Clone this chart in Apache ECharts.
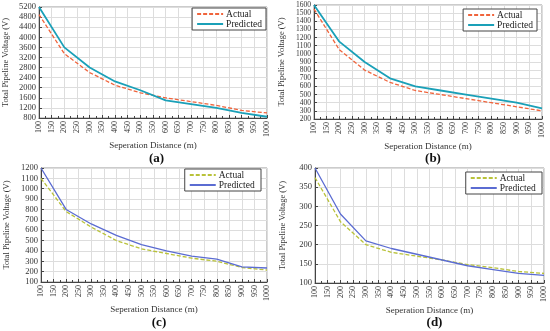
<!DOCTYPE html>
<html><head><meta charset="utf-8">
<script src="https://cdn.jsdelivr.net/npm/echarts@6/dist/echarts.min.js"></script>
<style>html,body{margin:0;padding:0;background:#fff}#c{width:550px;height:331px}</style>
</head><body><div id="c"></div>
<script>
var distances = [100,200,300,400,500,600,700,800,900,1000];
var aActual    = [4900,3350,2600,2100,1800,1600,1450,1300,1100,1000];
var aPredicted = [5200,3600,2800,2250,1900,1500,1350,1200,1000,850];
var bActual    = [1550,1050,800,650,550,500,450,400,350,300];
var bPredicted = [1600,1150,900,700,600,550,500,450,400,330];
var cActual    = [1100,780,630,500,420,375,330,300,240,215];
var cPredicted = [1200,800,660,550,460,400,350,320,245,235];
var dActual    = [375,260,200,180,170,160,148,140,130,125];
var dPredicted = [400,280,210,190,175,160,145,135,125,120];
var panelLabels = ['(a)','(b)','(c)','(d)'];
var yRanges = [[800,5200,400],[200,1600,100],[100,1200,100],[100,400,50]];

var F = '"Liberation Serif","DejaVu Serif",serif';
var grids = [
  {left:36, top:7, width:231, height:111},
  {left:314, top:5, width:228, height:114},
  {left:41, top:168, width:226, height:114},
  {left:315, top:168, width:229, height:115}
];
var legendPos = [
  {right:284, top:8}, {right:13, top:9}, {right:289, top:169}, {right:8, top:172}
];
var colorsA = ['#f0643c','#1aa0b8'];
var colorsC = ['#b9c23a','#5b6cd2'];
var allData = [[aActual,aPredicted],[bActual,bPredicted],[cActual,cPredicted],[dActual,dPredicted]];
function pairs(v){return distances.map(function(x,i){return [x,v[i]];});}

var option = {animation:false, grid:[], xAxis:[], yAxis:[], series:[], legend:[], title:[]};
for (var i=0;i<4;i++){
  var g = grids[i];
  option.grid.push({left:g.left, top:g.top, width:g.width, height:g.height, show:true, borderColor:'#999', borderWidth:1});
  option.xAxis.push({type:'value', gridIndex:i, min:100, max:1000, interval:50,
    name:'Seperation Distance (m)', nameLocation:'middle', nameGap:23,
    nameTextStyle:{fontFamily:F, fontSize:9, color:'#333'},
    axisLine:{lineStyle:{color:'#444'}}, axisTick:{inside:true, length:3, lineStyle:{color:'#444'}},
    minorTick:{show:true, splitNumber:2, length:2, lineStyle:{color:'#444'}},
    splitLine:{show:true, lineStyle:{color:'#ddd', width:1}},
    axisLabel:{rotate:90, fontFamily:F, fontSize:8, color:'#333', margin:3, formatter:function(v){return String(v);}}
  });
  var yr = yRanges[i];
  option.yAxis.push({type:'value', gridIndex:i, min:yr[0], max:yr[1], interval:yr[2],
    name:'Total Pipeline Voltage (V)', nameLocation:'middle', nameGap: (i==0?29:(i==1?28:(i==2?30:28))),
    nameTextStyle:{fontFamily:F, fontSize:8.5, color:'#333'},
    axisLine:{show:true, lineStyle:{color:'#444'}}, axisTick:{show:true, inside:true, length:3, lineStyle:{color:'#444'}},
    splitLine:{show:true, lineStyle:{color:'#ddd', width:1}},
    axisLabel:{fontFamily:F, fontSize:(i==1?7.5:8.5), color:'#333', margin:3, formatter:function(v){return String(v);}}
  });
  var cols = i<2 ? colorsA : colorsC;
  var nA = i<2 ? 'Actual' : 'Actual ';
  var nP = i<2 ? 'Predicted' : 'Predicted ';
  option.series.push({name:nA, type:'line', xAxisIndex:i, yAxisIndex:i, data:pairs(allData[i][0]),
    symbol:'none', lineStyle:{color:cols[0], width:1.3, type:[4,2]}, itemStyle:{color:cols[0]}});
  option.series.push({name:nP, type:'line', xAxisIndex:i, yAxisIndex:i, data:pairs(allData[i][1]),
    symbol:'none', lineStyle:{color:cols[1], width:(i<2?1.8:1.3)}, itemStyle:{color:cols[1]}});
  var lg = {orient:'vertical', top:legendPos[i].top, right:legendPos[i].right,
    data:[nA,nP], backgroundColor:'#fff', borderColor:'#444', borderWidth:1,
    padding:[1,4,1,4], itemGap:0, itemWidth:26, itemHeight:8, selectedMode:false,
    itemStyle:{opacity:0},
    textStyle:{fontFamily:F, fontSize:9.5, color:'#222', padding:[0,0,0,-2]}};
  option.legend.push(lg);
  var cx = g.left + g.width/2;
  option.title.push({text:panelLabels[i], left:cx, top:(i<2?147:311), textAlign:'center',
    textStyle:{fontFamily:F, fontSize:13, fontWeight:'bold', color:'#111'}});
}
var chart = echarts.init(document.getElementById('c'));
chart.setOption(option);
</script></body></html>
